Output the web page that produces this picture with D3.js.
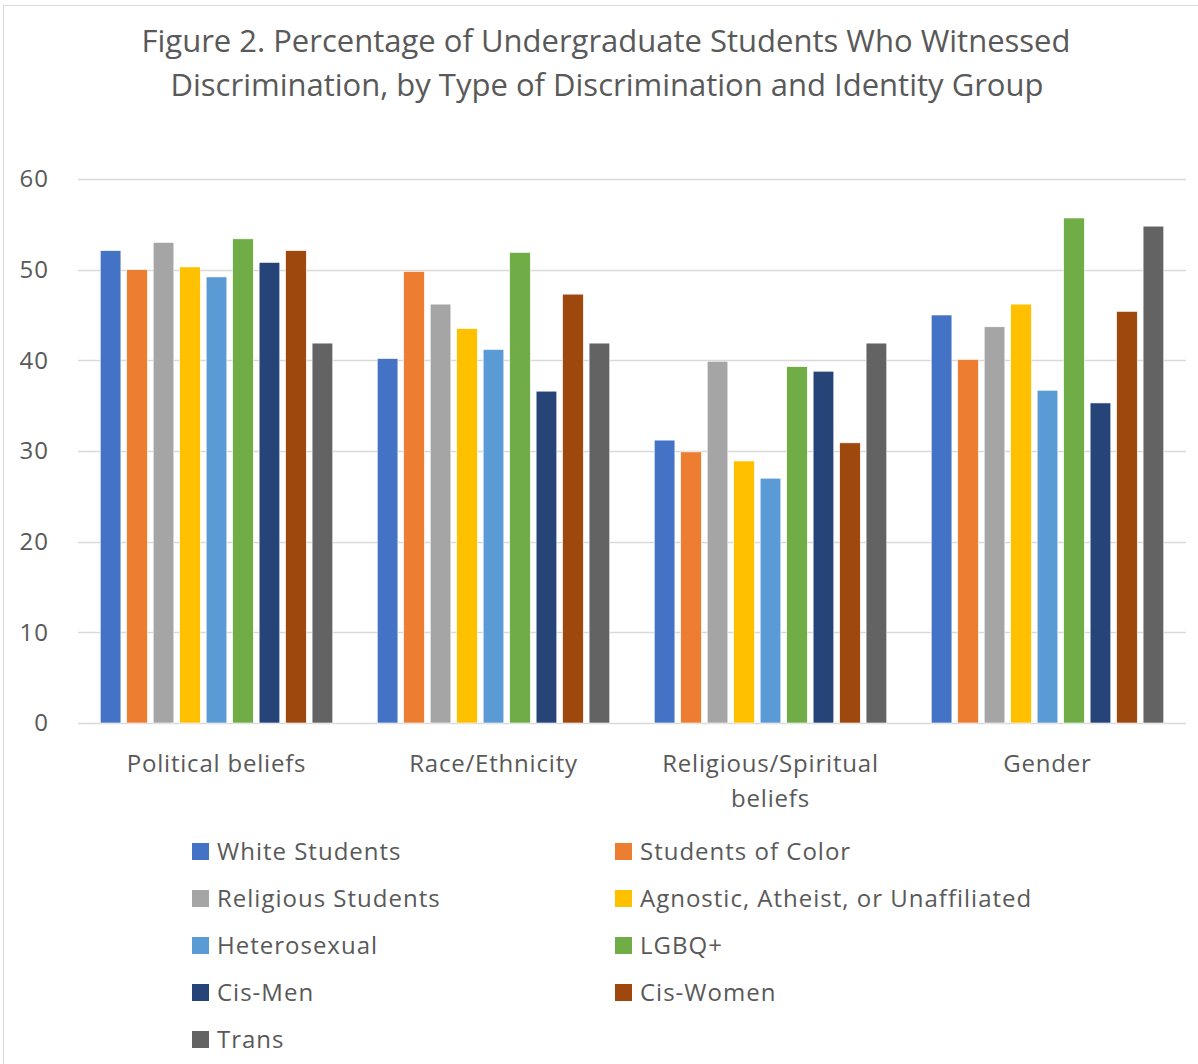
<!DOCTYPE html>
<html>
<head>
<meta charset="utf-8">
<script src="https://cdn.jsdelivr.net/npm/d3@7"></script>
<style>
  body { margin: 0; background: #fff; }
  text { font-family: "Open Sans", "Noto Sans", sans-serif; fill: #595959; }
</style>
</head>
<body>
<div id="chart"></div>
<script>
// chart size
const width = 1198
const height = 1064
const margin = { left: 78, right: 12, top: 179, bottom: 341 }

// Data
const categories = ["Political beliefs", "Race/Ethnicity", "Religious/Spiritual beliefs", "Gender"]
const groups = ["White Students", "Students of Color", "Religious Students", "Agnostic, Atheist, or Unaffiliated",
  "Heterosexual", "LGBQ+", "Cis-Men", "Cis-Women", "Trans"]
const whiteStudents = [52.1, 40.2, 31.2, 45.0]
const studentsOfColor = [50.0, 49.8, 29.9, 40.1]
const religiousStudents = [53.0, 46.2, 39.9, 43.7]
const agnostic = [50.3, 43.5, 28.9, 46.2]
const heterosexual = [49.2, 41.2, 27.0, 36.7]
const lgbq = [53.4, 51.9, 39.3, 55.7]
const cisMen = [50.8, 36.6, 38.8, 35.3]
const cisWomen = [52.1, 47.3, 30.9, 45.4]
const trans = [41.9, 41.9, 41.9, 54.8]
const yTicks = [0, 10, 20, 30, 40, 50, 60]

const seriesValues = [whiteStudents, studentsOfColor, religiousStudents, agnostic,
  heterosexual, lgbq, cisMen, cisWomen, trans]

const colors = ["#4472C4", "#ED7D31", "#A5A5A5", "#FFC000", "#5B9BD5", "#70AD47", "#264478", "#9E480E", "#636363"]

var svg = d3.select("#chart")
  .append("svg")
  .attr("width", width)
  .attr("height", height)

// chart border (cropped at the right and bottom)
svg.append("rect")
  .attr("x", 3.5).attr("y", 5.5)
  .attr("width", width + 10).attr("height", height + 10)
  .attr("fill", "none")
  .attr("stroke", "#D9D9D9")

// title
var title = svg.append("text")
  .attr("text-anchor", "middle")
  .style("font-size", "31px")
title.append("tspan").attr("x", 606).attr("y", 52)
  .text("Figure 2. Percentage of Undergraduate Students Who Witnessed")
title.append("tspan").attr("x", 607).attr("y", 96)
  .text("Discrimination, by Type of Discrimination and Identity Group")

var plotW = width - margin.left - margin.right
var plotH = height - margin.top - margin.bottom

var g = svg.append("g")
  .attr("transform", "translate(" + margin.left + "," + margin.top + ")")

var y = d3.scaleLinear().domain([0, 60]).range([plotH, 0])

var x0 = d3.scaleBand().domain(categories).range([0, 1108]).padding(0)
var x1 = d3.scaleBand().domain(groups).range([0, x0.bandwidth()])
  .paddingInner(0.22).paddingOuter(0.84)

// gridlines
g.append("g")
  .selectAll("line")
  .data(yTicks)
  .enter().append("line")
    .attr("x1", 0)
    .attr("x2", x0.range()[1])
    .attr("y1", d => Math.round(y(d)) + 0.5)
    .attr("y2", d => Math.round(y(d)) + 0.5)
    .attr("stroke", "#D9D9D9")
    .attr("stroke-width", 1.3)

// y axis labels
var yAxis = g.append("g")
  .call(d3.axisLeft(y).tickValues(yTicks).tickSize(0).tickPadding(29))
yAxis.select(".domain").remove()
yAxis.selectAll("text")
  .style("font-size", "24px")
  .style("fill", "#595959")
  .style("letter-spacing", "1px")
  .style("font-family", "'Open Sans', sans-serif")

// bars
var groupSel = g.append("g")
  .selectAll("g")
  .data(categories)
  .enter().append("g")
    .attr("transform", d => "translate(" + x0(d) + ",0)")

groupSel.selectAll("rect")
  .data((c, ci) => groups.map((s, si) => ({ series: s, si: si, value: seriesValues[si][ci] })))
  .enter().append("rect")
    .attr("x", d => x1(d.series))
    .attr("width", x1.bandwidth())
    .attr("y", d => y(d.value))
    .attr("height", d => y(0) - y(d.value))
    .attr("fill", d => colors[d.si])
    .attr("stroke", "#fff")
    .attr("stroke-width", 0.6)

// category labels
var xAxis = g.append("g")
  .attr("transform", "translate(0," + plotH + ")")
xAxis.selectAll("text")
  .data(categories)
  .enter().append("text")
    .attr("text-anchor", "middle")
    .style("font-size", "24px")
    .style("letter-spacing", "0.8px")
    .each(function(d) {
      var cx = x0(d) + x0.bandwidth() / 2
      var lines = d === "Religious/Spiritual beliefs" ? ["Religious/Spiritual", "beliefs"] : [d]
      var t = d3.select(this)
      lines.forEach(function(l, i) {
        t.append("tspan").attr("x", cx).attr("y", 49 + i * 35).text(l)
      })
    })

// legend, two columns
var legend = svg.append("g")
  .selectAll("g")
  .data(groups)
  .enter().append("g")
    .attr("transform", (d, i) => "translate(" + (i % 2 === 0 ? 192 : 615) + "," + (851 + Math.floor(i / 2) * 47) + ")")

legend.append("rect")
  .attr("x", 0).attr("y", -8)
  .attr("width", 17).attr("height", 17)
  .attr("fill", (d, i) => colors[i])

legend.append("text")
  .attr("x", 25)
  .attr("y", 9)
  .style("font-size", "24px")
  .style("letter-spacing", "1px")
  .text(d => d)
</script>
</body>
</html>
